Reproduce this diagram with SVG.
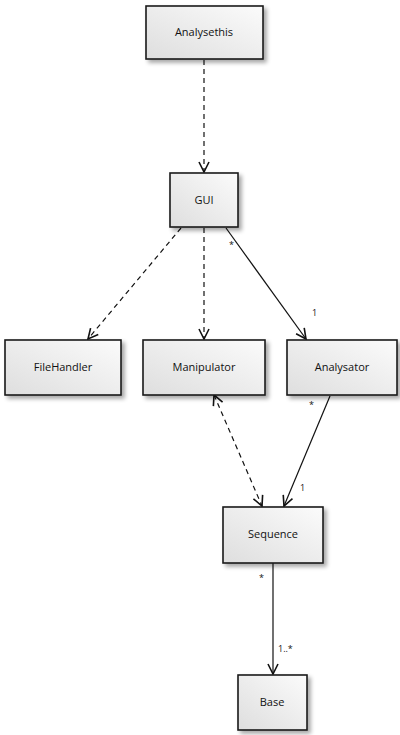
<svg xmlns="http://www.w3.org/2000/svg" width="400" height="735" viewBox="0 0 400 735">
<defs>
<linearGradient id="g" x1="1" y1="0" x2="0" y2="1">
<stop offset="0" stop-color="#fbfbfb"/>
<stop offset="1" stop-color="#dedede"/>
</linearGradient>
<filter id="sh" x="-20%" y="-20%" width="150%" height="150%">
<feGaussianBlur in="SourceAlpha" stdDeviation="2"/>
<feOffset dx="3" dy="3" result="b"/>
<feComponentTransfer><feFuncA type="linear" slope="0.35"/></feComponentTransfer>
<feMerge><feMergeNode/><feMergeNode in="SourceGraphic"/></feMerge>
</filter>
<marker id="arr" viewBox="0 0 12 12" refX="11" refY="6" markerWidth="12" markerHeight="12" markerUnits="userSpaceOnUse" orient="auto-start-reverse">
<path d="M1,1 L11,6 L1,11" fill="none" stroke="#111" stroke-width="1.6"/>
</marker>
</defs>
<style>
.box{fill:url(#g);stroke:#1a1a1a;stroke-width:1.6;filter:url(#sh)}
.t{font-family:"Open Sans","DejaVu Sans",sans-serif;font-size:11px;fill:#111;text-anchor:middle}
.c{fill:none;stroke:#111;stroke-width:1.2}
.d{stroke-dasharray:5,4}
.l{font-family:"Open Sans","DejaVu Sans",sans-serif;font-size:9px;fill:#111}
</style>
<g id="connectors">
<line class="c d" x1="204" y1="60" x2="204" y2="172" marker-end="url(#arr)"/>
<line class="c d" x1="181" y1="228" x2="88" y2="339" marker-end="url(#arr)"/>
<line class="c d" x1="204" y1="228" x2="204" y2="339" marker-end="url(#arr)"/>
<line class="c" x1="226" y1="228" x2="306" y2="339" marker-end="url(#arr)"/>
<line class="c d" x1="214" y1="395" x2="262" y2="506" marker-start="url(#arr)" marker-end="url(#arr)"/>
<line class="c" x1="330" y1="396" x2="284" y2="506" marker-end="url(#arr)"/>
<line class="c" x1="273" y1="563" x2="273" y2="674" marker-end="url(#arr)"/>
<text class="l" x="229" y="248">*</text>
<text class="l" x="312" y="316">1</text>
<text class="l" x="309" y="408">*</text>
<text class="l" x="300" y="491">1</text>
<text class="l" x="259" y="581">*</text>
<text class="l" x="278" y="652">1..*</text>
</g>
<g id="Analysethis"><rect class="box" x="146" y="6" width="117" height="53"/><text class="t" x="204" y="36">Analysethis</text></g>
<g id="GUI"><rect class="box" x="170" y="173" width="68" height="54"/><text class="t" x="204" y="204">GUI</text></g>
<g id="FileHandler"><rect class="box" x="5" y="340" width="116" height="55"/><text class="t" x="63" y="371">FileHandler</text></g>
<g id="Manipulator"><rect class="box" x="143" y="340" width="122" height="55"/><text class="t" x="204" y="371">Manipulator</text></g>
<g id="Analysator"><rect class="box" x="287" y="340" width="110" height="55"/><text class="t" x="342" y="371">Analysator</text></g>
<g id="Sequence"><rect class="box" x="223" y="507" width="100" height="56"/><text class="t" x="273" y="538">Sequence</text></g>
<g id="Base"><rect class="box" x="238" y="675" width="69" height="55"/><text class="t" x="272" y="706">Base</text></g>
</svg>
